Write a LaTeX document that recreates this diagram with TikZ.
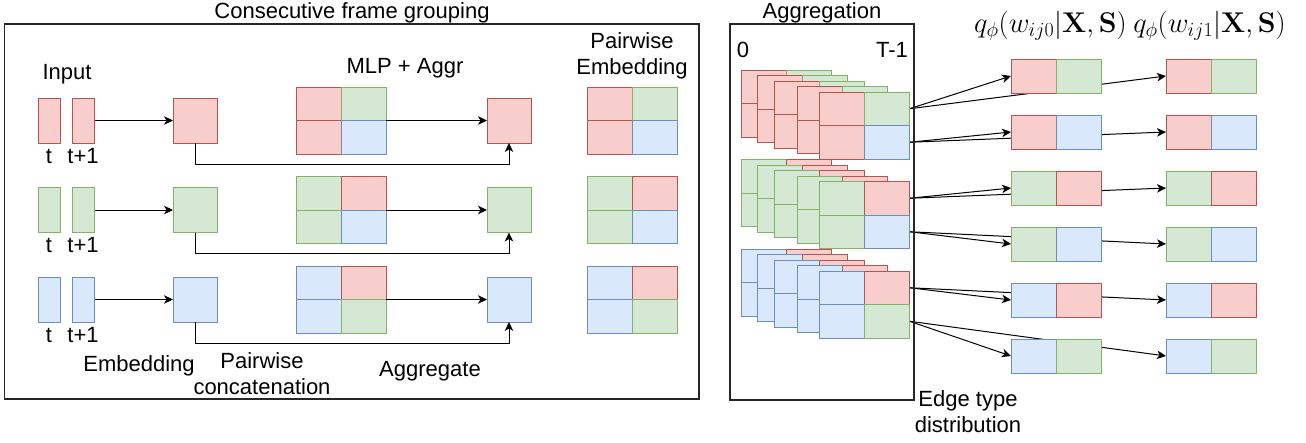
\RequirePackage{fix-cm}
\documentclass[tikz,border=0pt]{standalone}
\usepackage[no-math]{fontspec}
\setmainfont{Liberation Sans}
\usetikzlibrary{arrows.meta}
\definecolor{rf}{HTML}{F8CECC}\definecolor{rs}{HTML}{B85450}
\definecolor{gf}{HTML}{D5E8D4}\definecolor{gs}{HTML}{82B366}
\definecolor{bf}{HTML}{DAE8FC}\definecolor{bs}{HTML}{6C8EBF}
\pgfdeclarelayer{bg}\pgfsetlayers{bg,main}
\tikzset{
  R/.style={fill=rf,draw=rs},
  G/.style={fill=gf,draw=gs},
  B/.style={fill=bf,draw=bs},
  cell/.style={line width=1pt,minimum width=45pt,minimum height=33.5pt,inner sep=0pt,outer sep=0pt,anchor=north west},
  pcell/.style={cell,minimum height=34pt},
  rectbox/.style={line width=1pt,inner sep=0pt,outer sep=0pt,anchor=north west,minimum height=45pt},
  frame/.style={draw=black!85,line width=1.2pt,inner sep=0pt,outer sep=0pt,anchor=north west},
  lbl/.style={font=\fontsize{22}{26}\selectfont,inner sep=0pt,anchor=base},
  mathlbl/.style={font=\fontsize{28.5}{32}\selectfont,inner sep=0pt},
  arr/.style={-{Stealth[length=9pt,width=8.5pt,inset=2.5pt]},line width=1pt,black},
}
% 2x2 grid: name, x, y, TL, TR, BL, BR
\newcommand{\QG}[7]{%
  \node[cell,#4] (#1a) at (#2,#3) {};
  \node[cell,#5] (#1b) at ({#2+45},#3) {};
  \node[cell,#6] (#1c) at (#2,{#3+33.5}) {};
  \node[cell,#7] (#1d) at ({#2+45},{#3+33.5}) {};
}
% pair: name, x, y, L, R
\newcommand{\PR}[5]{%
  \node[pcell,#4] (#1a) at (#2,#3) {};
  \node[pcell,#5] (#1b) at ({#2+45},#3) {};
}
% left row: id, dy, colour, TL, TR, BL, BR
\newcommand{\ROW}[7]{%
  \node[rectbox,#3,minimum width=22.5pt] (ina#1) at (38,{98+#2}) {};
  \node[rectbox,#3,minimum width=22.5pt] (inb#1) at (72,{98+#2}) {};
  \node[rectbox,#3,minimum width=44pt] (emb#1) at (173,{98+#2}) {};
  \QG{pc#1}{296}{87+#2}{#4}{#5}{#6}{#7}
  \node[rectbox,#3,minimum width=44pt] (agg#1) at (487,{98+#2}) {};
  \QG{pe#1}{587}{87+#2}{#4}{#5}{#6}{#7}
  \node[lbl] (t#1) at (49,{163+#2}) {t};
  \node[lbl] (tp#1) at (83,{163+#2}) {t+1};
  \draw[arr] (inb#1.east) -- (emb#1.west);
  \draw[arr] (pc#1b.south east) -- (agg#1.west);
  \draw[arr] (emb#1.south) -- ++(0,21) -| (agg#1.south);
}
% stack: id, front top y, TL, TR, BL, BR
\newcommand{\STK}[6]{%
  \QG{s#1w}{741}{#2-22}{#3}{#4}{#5}{#6}
  \QG{s#1x}{757.5}{#2-16.5}{#3}{#4}{#5}{#6}
  \QG{s#1y}{774.5}{#2-11}{#3}{#4}{#5}{#6}
  \QG{s#1z}{797.5}{#2-5.5}{#3}{#4}{#5}{#6}
  \QG{s#1}{819.5}{#2}{#3}{#4}{#5}{#6}
}
\begin{document}
\begin{tikzpicture}[x=1pt,y=-1pt]
\useasboundingbox (0,0) rectangle (1306,442);
% frames
\node[frame,minimum width=694.5pt,minimum height=375pt] (lbox) at (4.5,24) {};
\node[frame,minimum width=184pt,minimum height=376pt] (abox) at (730,24) {};
\node[lbl] (ttl1) at (352,18) {Consecutive frame grouping};
\node[lbl] (ttl2) at (822,18) {Aggregation};
\node[lbl] (zero) at (743,57) {0};
\node[lbl] (tm1) at (892,57) {T-1};
% left labels
\node[lbl] (inp) at (67,79) {Input};
\node[lbl] (mlp) at (405,73) {MLP + Aggr};
\node[lbl] (pw1) at (632,48) {Pairwise};
\node[lbl] (pw2) at (632,74) {Embedding};
\node[lbl] (embl) at (139,371) {Embedding};
\node[lbl] (pcl1) at (262,368) {Pairwise};
\node[lbl] (pcl2) at (262,394) {concatenation};
\node[lbl] (aggl) at (430,376) {Aggregate};
\node[lbl] (edl1) at (968,406) {Edge type};
\node[lbl] (edl2) at (968,432) {distribution};
% rows
\ROW{0}{0}{R}{R}{G}{R}{B}
\ROW{1}{89.5}{G}{G}{R}{G}{B}
\ROW{2}{179}{B}{B}{R}{B}{G}
% stacks
\STK{1}{92}{R}{G}{R}{B}
\STK{2}{181.5}{G}{R}{G}{B}
\STK{3}{271}{B}{R}{B}{G}
% pairs
\PR{pa}{1011}{59}{R}{G}   \PR{qa}{1166}{59}{R}{G}
\PR{pb}{1011}{115}{R}{B}  \PR{qb}{1166}{115}{R}{B}
\PR{pc}{1011}{171}{G}{R}  \PR{qc}{1166}{171}{G}{R}
\PR{pd}{1011}{227}{G}{B}  \PR{qd}{1166}{227}{G}{B}
\PR{pf}{1011}{283}{B}{R}  \PR{qf}{1166}{283}{B}{R}
\PR{pg}{1011}{339}{B}{G}  \PR{qg}{1166}{339}{B}{G}
\node[mathlbl] (q0) at (1050.5,26) {$q_\phi(w_{ij0}|\mathbf{X},\mathbf{S})$};
\node[mathlbl] (q1) at (1209.5,26) {$q_\phi(w_{ij1}|\mathbf{X},\mathbf{S})$};
\begin{pgfonlayer}{bg}
\draw[arr] (s1b.east) -- (paa.west);  \draw[arr] (s1b.east) -- (qaa.west);
\draw[arr] (s1d.east) -- (pba.west);  \draw[arr] (s1d.east) -- (qba.west);
\draw[arr] (s2b.east) -- (pca.west);  \draw[arr] (s2b.east) -- (qca.west);
\draw[arr] (s2d.east) -- (pda.west);  \draw[arr] (s2d.east) -- (qda.west);
\draw[arr] (s3b.east) -- (pfa.west);  \draw[arr] (s3b.east) -- (qfa.west);
\draw[arr] (s3d.east) -- (pga.west);  \draw[arr] (s3d.east) -- (qga.west);
\end{pgfonlayer}
\end{tikzpicture}
\end{document}
